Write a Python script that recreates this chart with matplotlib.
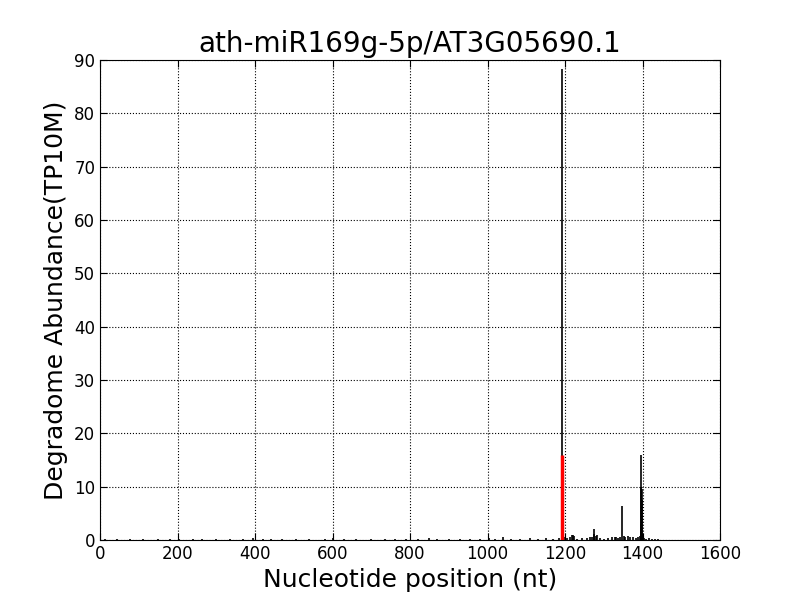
import matplotlib
matplotlib.use("Agg")
import matplotlib.pyplot as plt

# --- DATE ---
TITLE = "ath-miR169g-5p/AT3G05690.1"
CLEAVAGE_POS = 1192
CLEAVAGE_VAL = 15.9

# pozitii si abundente (TP10M)
positions = [12, 45, 78, 110, 150, 180, 205, 240, 262, 300, 335, 370, 395,
             420, 440, 470, 505, 540, 580, 600, 630, 660, 700, 735, 760,
             790, 820, 850, 870, 900, 930, 955, 980, 1005, 1020, 1040, 1060,
             1085, 1110, 1130, 1150, 1170, 1185, 1192,
             1200, 1205, 1212, 1218, 1220, 1222, 1230, 1245, 1258, 1265,
             1270, 1274, 1276, 1279, 1282, 1290, 1300, 1310, 1320, 1328,
             1332, 1338, 1343, 1348, 1352, 1356, 1362, 1368, 1375, 1382,
             1388, 1393, 1395, 1396, 1397, 1398, 1399, 1400, 1403, 1410,
             1418, 1425, 1432, 1440]
values = [0.1, 0.1, 0.15, 0.1, 0.2, 0.1, 0.15, 0.2, 0.1, 0.15, 0.1, 0.2, 0.3,
          0.15, 0.2, 0.1, 0.25, 0.15, 0.2, 0.3, 0.15, 0.1, 0.2, 0.15, 0.2,
          0.1, 0.2, 0.3, 0.15, 0.2, 0.1, 0.2, 0.25, 0.3, 0.2, 0.6, 0.2,
          0.25, 0.3, 0.2, 0.3, 0.25, 0.4, 88.3,
          0.5, 0.3, 0.6, 0.9, 1.0, 0.8, 0.2, 0.3, 0.4, 0.5,
          0.6, 1.2, 2.0, 0.7, 1.0, 0.3, 0.2, 0.4, 0.5, 0.6,
          0.5, 0.4, 0.6, 6.4, 0.8, 0.5, 0.7, 0.5, 0.6, 0.4,
          0.5, 0.8, 3.0, 10.0, 16.0, 9.5, 7.5, 1.2, 0.4, 0.2,
          0.3, 0.2, 0.2, 0.1]

fig = plt.figure(figsize=(8, 6), dpi=100)
ax = fig.add_axes([0.125, 0.1, 0.775, 0.8])

ax.vlines(positions, 0, values, colors='black', linewidth=1.2)
ax.vlines([CLEAVAGE_POS + 1], 0, [CLEAVAGE_VAL], colors='red', linewidth=2.5)

ax.set_xlim(0, 1600)
ax.set_ylim(0, 90)
ax.set_title(TITLE, fontsize=20)
ax.set_xlabel("Nucleotide position (nt)", fontsize=18)
ax.set_ylabel("Degradome Abundance(TP10M)", fontsize=18)
ax.grid(True, linestyle=':', color='black', linewidth=0.8)
ax.tick_params(direction='in', top=True, right=True, labelsize=12, length=5)

fig.savefig("out.png", dpi=100)
